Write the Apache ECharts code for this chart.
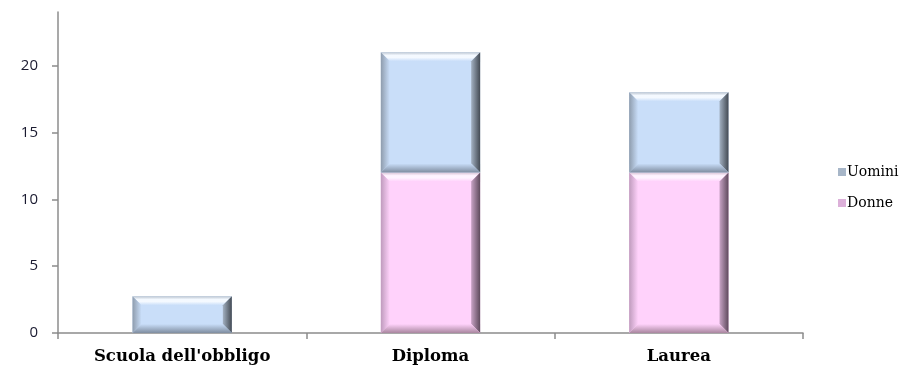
<!DOCTYPE html>
<html>
<head>
<meta charset="utf-8">
<script src="https://cdn.jsdelivr.net/npm/echarts@6/dist/echarts.min.js"></script>
<style>
  html, body { margin: 0; padding: 0; background: #fff; }
  #chart { width: 911px; height: 371px; }
</style>
</head>
<body>
<div id="chart"></div>
<script>
// Titolo di studio: valori per genere (colonne impilate)
const categories = ["Scuola dell'obbligo", 'Diploma', 'Laurea'];
const donne = [0, 12, 12];
const uomini = [2.75, 9, 6];
const yTicks = [0, 5, 10, 15, 20];

// Palette with bevel shades for each series
const palette = {
  Uomini: { main: '#c9def9', edge: '#b9c3cf', top: '#f4f9ff', left: '#8e9cad', right: ['#a3b1c2', '#434a53'], bottom: '#7f8da0', legend: '#a7b6c8' },
  Donne:  { main: '#ffd2fb', edge: '#d9c4d6', top: '#fff3ff', left: '#bf9bbd', right: ['#c8a3c5', '#5e4a5c'], bottom: '#a9869f', legend: '#dcb0d9' }
};

// Each point: [category index, stack base, stack top]
const donneData = donne.map((v, i) => [i, 0, v]);
const uominiData = uomini.map((v, i) => [i, donne[i], donne[i] + v]);

function bevelBar(colors) {
  return function (params, api) {
    const cat = api.value(0);
    const base = api.value(1);
    const top = api.value(2);
    if (top - base <= 0) return null;
    const p0 = api.coord([cat, base]);
    const p1 = api.coord([cat, top]);
    const w = api.size([1, 0])[0] * 0.4;
    const x = p0[0] - w / 2;
    const y = p1[1];
    const h = p0[1] - p1[1];
    const b = Math.min(9, h / 3, w / 3);
    return {
      type: 'group',
      children: [
        { type: 'rect', shape: { x: x, y: y, width: w, height: h }, style: { fill: colors.main } },
        { type: 'polygon', shape: { points: [[x, y], [x + w, y], [x + w - b, y + b], [x + b, y + b]] },
          style: { fill: new echarts.graphic.LinearGradient(0, 0, 0, 1, [
            { offset: 0, color: colors.edge }, { offset: 0.35, color: colors.top },
            { offset: 0.6, color: colors.top }, { offset: 1, color: colors.main }]) } },
        { type: 'polygon', shape: { points: [[x, y], [x + b, y + b], [x + b, y + h - b], [x, y + h]] },
          style: { fill: new echarts.graphic.LinearGradient(0, 0, 1, 0, [
            { offset: 0, color: colors.left }, { offset: 1, color: colors.main }]) } },
        { type: 'polygon', shape: { points: [[x + w, y], [x + w, y + h], [x + w - b, y + h - b], [x + w - b, y + b]] },
          style: { fill: new echarts.graphic.LinearGradient(0, 0, 1, 0, [
            { offset: 0, color: colors.right[0] }, { offset: 1, color: colors.right[1] }]) } },
        { type: 'polygon', shape: { points: [[x, y + h], [x + b, y + h - b], [x + w - b, y + h - b], [x + w, y + h]] },
          style: { fill: new echarts.graphic.LinearGradient(0, 0, 0, 1, [
            { offset: 0, color: colors.main }, { offset: 1, color: colors.bottom }]) } }
      ]
    };
  };
}

const chart = echarts.init(document.getElementById('chart'), null, { renderer: 'canvas' });
chart.setOption({
  animation: false,
  grid: { left: 58, right: 108, top: 12, bottom: 38 },
  legend: {
    orient: 'vertical',
    left: 833,
    top: 160,
    itemWidth: 8,
    itemHeight: 8,
    itemGap: 17,
    icon: 'rect',
    textStyle: { fontFamily: 'DejaVu Serif', fontSize: 14, color: '#000', padding: [0, 0, 0, -4] },
    data: [
      { name: 'Uomini', itemStyle: { color: palette.Uomini.legend } },
      { name: 'Donne', itemStyle: { color: palette.Donne.legend } }
    ]
  },
  xAxis: {
    type: 'category',
    data: categories,
    boundaryGap: true,
    axisLine: { lineStyle: { color: '#8c8c8c', width: 1.5 } },
    axisTick: { show: true, length: 6, lineStyle: { color: '#8c8c8c', width: 1.5 } },
    axisLabel: { margin: 15, fontFamily: 'DejaVu Serif', fontWeight: 'bold', fontSize: 16.5, color: '#000' },
    splitLine: { show: false }
  },
  yAxis: {
    type: 'value',
    min: 0,
    max: 24,
    interval: 5,
    axisLine: { show: true, lineStyle: { color: '#8c8c8c', width: 1.5 } },
    axisTick: { show: true, length: 6, customValues: yTicks, lineStyle: { color: '#8c8c8c', width: 1.5 } },
    axisLabel: { margin: 20, customValues: yTicks, fontFamily: 'Open Sans', fontSize: 15, color: '#1a1a30' },
    splitLine: { show: false }
  },
  series: [
    {
      name: 'Donne',
      type: 'custom',
      renderItem: bevelBar(palette.Donne),
      encode: { x: 0, y: [1, 2] },
      itemStyle: { color: palette.Donne.legend },
      data: donneData
    },
    {
      name: 'Uomini',
      type: 'custom',
      renderItem: bevelBar(palette.Uomini),
      encode: { x: 0, y: [1, 2] },
      itemStyle: { color: palette.Uomini.legend },
      data: uominiData
    }
  ]
});
</script>
</body>
</html>
